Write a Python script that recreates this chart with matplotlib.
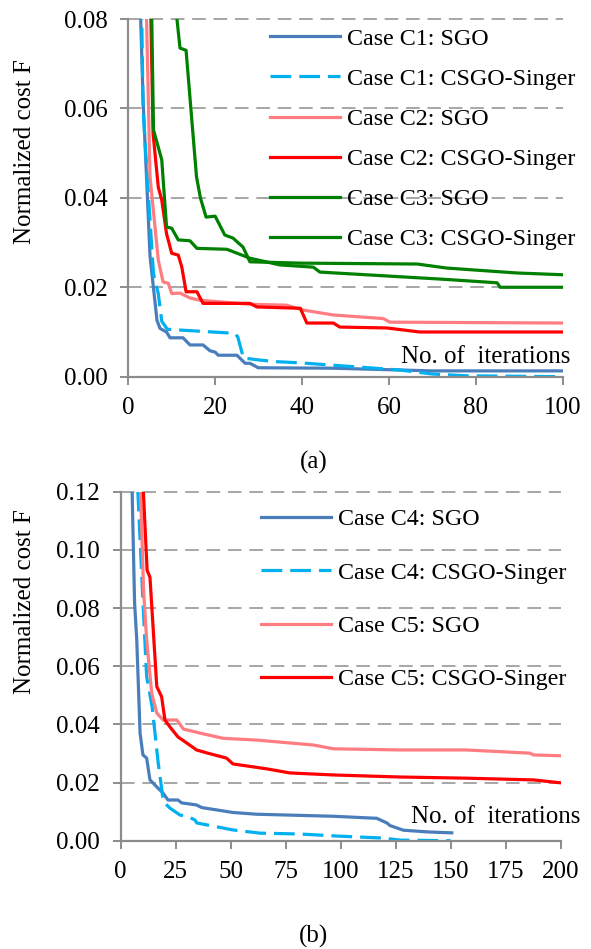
import matplotlib
matplotlib.use("Agg")
import matplotlib.pyplot as plt
from matplotlib.ticker import FormatStrFormatter

plt.rcParams['font.family'] = ['Liberation Serif', 'DejaVu Serif']

# ---- (a) cases C1-C3, iterations 0..100
c1_sgo_x = [2.0, 2.85, 3.4, 5.0, 6.6, 7.3, 8.8, 9.6, 12.6, 14.2, 17.2, 18.8, 20.0, 20.7, 25.0, 26.9, 28.0, 29.9, 47.0, 70.0, 100.0]
c1_sgo_y = [0.15, 0.08, 0.062, 0.027, 0.0126, 0.0108, 0.0100, 0.0087, 0.0087, 0.0071, 0.0071, 0.0058, 0.0055, 0.0048, 0.0048, 0.0030, 0.0030, 0.0020, 0.0019, 0.0013, 0.0013]

c1_csgo_x = [2.3, 3.1, 3.4, 4.2, 5.8, 6.9, 7.7, 8.0, 9.0, 24.5, 25.2, 26.5, 28.7, 33.3, 39.5, 62.5, 70.0, 78.0, 100.0]
c1_csgo_y = [0.15, 0.08, 0.06, 0.047, 0.023, 0.0186, 0.0124, 0.0120, 0.0106, 0.0097, 0.0089, 0.0042, 0.0039, 0.0034, 0.0031, 0.0015, 0.0006, 0.0002, 0.0]

c2_sgo_x = [3.5, 4.2, 5.0, 6.9, 8.0, 9.2, 10.0, 11.9, 14.2, 16.5, 28.0, 36.4, 40.3, 47.2, 58.7, 60.2, 100.0]
c2_sgo_y = [0.15, 0.08, 0.0447, 0.0261, 0.0212, 0.0209, 0.0186, 0.0187, 0.0176, 0.0171, 0.0162, 0.0160, 0.0149, 0.0138, 0.0130, 0.0122, 0.0120]

c2_csgo_x = [4.6, 5.2, 5.7, 6.9, 7.7, 8.8, 10.0, 11.5, 12.3, 13.3, 15.8, 17.2, 28.0, 29.6, 39.6, 41.1, 47.2, 48.7, 59.5, 67.1, 100.0]
c2_csgo_y = [0.15, 0.08, 0.0544, 0.0424, 0.0395, 0.032, 0.0276, 0.0272, 0.0246, 0.019, 0.019, 0.0164, 0.0164, 0.0156, 0.0153, 0.0120, 0.0120, 0.0111, 0.0109, 0.0100, 0.0100]

c3_sgo_x = [10.6, 11.2, 11.9, 13.3, 15.7, 16.6, 17.9, 20.0, 22.2, 24.1, 26.4, 28.0, 39.6, 66.5, 73.3, 89.4, 100.0]
c3_sgo_y = [0.15, 0.08, 0.0735, 0.073, 0.0447, 0.040, 0.0357, 0.0359, 0.0317, 0.031, 0.029, 0.0257, 0.0254, 0.0252, 0.0243, 0.0232, 0.0228]

c3_csgo_x = [4.9, 5.4, 5.8, 7.7, 8.8, 10.0, 11.5, 14.2, 15.8, 22.7, 28.0, 34.9, 42.6, 44.1, 72.4, 84.9, 85.6, 100.0]
c3_csgo_y = [0.15, 0.08, 0.0552, 0.0485, 0.0335, 0.0332, 0.0306, 0.0304, 0.0287, 0.0285, 0.0265, 0.0250, 0.0245, 0.0234, 0.0218, 0.0210, 0.0200, 0.0200]

# ---- (b) cases C4-C5, iterations 0..200
c4_sgo_x = [4.5, 5.2, 6.3, 7.3, 8.8, 10.1, 11.8, 13.3, 16.4, 19.2, 21.5, 26.0, 27.7, 34.4, 36.8, 51.0, 61.8, 96.7, 116.4, 121.0, 122.4, 128.5, 140.0, 150.5]
c4_sgo_y = [0.15, 0.12, 0.082, 0.069, 0.037, 0.0295, 0.0284, 0.0209, 0.0185, 0.0164, 0.014, 0.014, 0.013, 0.0123, 0.0114, 0.0097, 0.0091, 0.0084, 0.0077, 0.0061, 0.0052, 0.0036, 0.0030, 0.0027]

c4_csgo_x = [7.0, 7.8, 10.0, 11.8, 14.3, 17.0, 19.4, 22.4, 27.0, 30.0, 33.8, 34.6, 43.6, 51.0, 63.3, 81.5, 98.3, 119.4, 127.0, 150.0]
c4_csgo_y = [0.15, 0.12, 0.084, 0.0563, 0.046, 0.027, 0.0134, 0.0112, 0.0088, 0.0085, 0.0071, 0.0061, 0.0048, 0.0037, 0.0026, 0.0023, 0.0016, 0.0009, 0.0002, 0.0]

c5_sgo_x = [8.0, 9.0, 10.4, 11.8, 14.1, 16.4, 19.3, 25.5, 28.5, 36.0, 46.6, 61.8, 87.6, 96.7, 127.0, 157.0, 186.0, 187.6, 200.0]
c5_sgo_y = [0.15, 0.12, 0.086, 0.069, 0.0507, 0.0439, 0.0415, 0.0415, 0.0384, 0.037, 0.0352, 0.0346, 0.0329, 0.0316, 0.0312, 0.0312, 0.0301, 0.0295, 0.0292]

c5_csgo_x = [9.6, 10.3, 12.0, 13.3, 16.4, 18.6, 20.1, 22.4, 26.0, 30.0, 34.5, 39.1, 48.1, 51.0, 66.4, 76.9, 96.7, 127.0, 157.0, 187.6, 200.0]
c5_csgo_y = [0.15, 0.12, 0.093, 0.0906, 0.053, 0.0495, 0.0415, 0.0391, 0.0357, 0.0336, 0.0312, 0.0302, 0.0284, 0.0264, 0.0247, 0.0233, 0.0226, 0.0219, 0.0215, 0.0209, 0.0199]

xticks_a = [0, 20, 40, 60, 80, 100]
yticks_a = [0.00, 0.02, 0.04, 0.06, 0.08]
xticks_b = [0, 25, 50, 75, 100, 125, 150, 175, 200]
yticks_b = [0.00, 0.02, 0.04, 0.06, 0.08, 0.10, 0.12]

BLUE = '#4A7EBB'
LBLUE = '#00B0F0'
PINK = '#FF7C80'
RED = '#FF0000'
GREEN = '#008000'
GRAY = '#8C8C8C'
DASH = (0, (6.5, 2.5))

W, H = 591, 949
fig = plt.figure(figsize=(W / 100, H / 100), dpi=100)


def px_axes(l, t, r, b):
    return fig.add_axes([l / W, 1 - b / H, (r - l) / W, (b - t) / H])


def style(ax, xt, yt):
    ax.set_xticks(xt)
    ax.set_yticks(yt)
    ax.set_xlim(xt[0], xt[-1])
    ax.set_ylim(yt[0], yt[-1])
    ax.yaxis.set_major_formatter(FormatStrFormatter('%.2f'))
    for s in ['top', 'right']:
        ax.spines[s].set_visible(False)
    for s in ['left', 'bottom']:
        ax.spines[s].set_color(GRAY)
        ax.spines[s].set_linewidth(1.6)
    ax.tick_params(direction='out', length=5.8, width=1.4, color=GRAY,
                   labelsize=18, pad=9)
    ax.yaxis.grid(True, color='#A6A6A6', linewidth=1.4, linestyle=(0, (7, 4)))
    ax.set_axisbelow(True)
    for gl in ax.get_ygridlines():
        gl.set_clip_on(False)


ax1 = px_axes(128.3, 19, 562.7, 376.7)
style(ax1, xticks_a, yticks_a)
lw = 2.3
ax1.plot(c1_sgo_x, c1_sgo_y, color=BLUE, lw=lw, label='Case C1: SGO')
ax1.plot(c1_csgo_x, c1_csgo_y, color=LBLUE, lw=lw, linestyle=DASH, label='Case C1: CSGO-Singer')
ax1.plot(c2_sgo_x, c2_sgo_y, color=PINK, lw=lw, label='Case C2: SGO')
ax1.plot(c2_csgo_x, c2_csgo_y, color=RED, lw=lw, label='Case C2: CSGO-Singer')
ax1.plot(c3_sgo_x, c3_sgo_y, color=GREEN, lw=lw, label='Case C3: SGO')
ax1.plot(c3_csgo_x, c3_csgo_y, color=GREEN, lw=lw, label='Case C3: CSGO-Singer')
ax1.legend(loc='upper left', bbox_to_anchor=(270 / W, 1 - 28 / H),
           bbox_transform=fig.transFigure, frameon=False, fontsize=17.3,
           borderpad=0, borderaxespad=0, handlelength=2.9, handletextpad=0.3,
           labelspacing=0.76)

ax2 = px_axes(120.7, 491.7, 560.7, 840.7)
style(ax2, xticks_b, yticks_b)
ax2.plot(c4_sgo_x, c4_sgo_y, color=BLUE, lw=lw, label='Case C4: SGO')
ax2.plot(c4_csgo_x, c4_csgo_y, color=LBLUE, lw=lw, linestyle=DASH, label='Case C4: CSGO-Singer')
ax2.plot(c5_sgo_x, c5_sgo_y, color=PINK, lw=lw, label='Case C5: SGO')
ax2.plot(c5_csgo_x, c5_csgo_y, color=RED, lw=lw, label='Case C5: CSGO-Singer')
ax2.legend(loc='upper left', bbox_to_anchor=(261 / W, 1 - 508.5 / H),
           bbox_transform=fig.transFigure, frameon=False, fontsize=17.3,
           borderpad=0, borderaxespad=0, handlelength=2.9, handletextpad=0.3,
           labelspacing=1.31)

# axis captions
fig.text(25 / W, 1 - 152 / H, 'Normalized cost F', rotation=90, fontsize=18,
         ha='center', va='center')
fig.text(25 / W, 1 - 602 / H, 'Normalized cost F', rotation=90, fontsize=18,
         ha='center', va='center')
fig.text(570 / W, 1 - 363 / H, 'No. of  iterations', fontsize=18,
         ha='right', va='baseline')
fig.text(580 / W, 1 - 823 / H, 'No. of  iterations', fontsize=18,
         ha='right', va='baseline')
fig.text(314 / W, 1 - 462 / H, '(a)', fontsize=18, ha='center', va='center')
fig.text(313 / W, 1 - 936 / H, '(b)', fontsize=18, ha='center', va='center')

fig.savefig('out.png', dpi=100)
